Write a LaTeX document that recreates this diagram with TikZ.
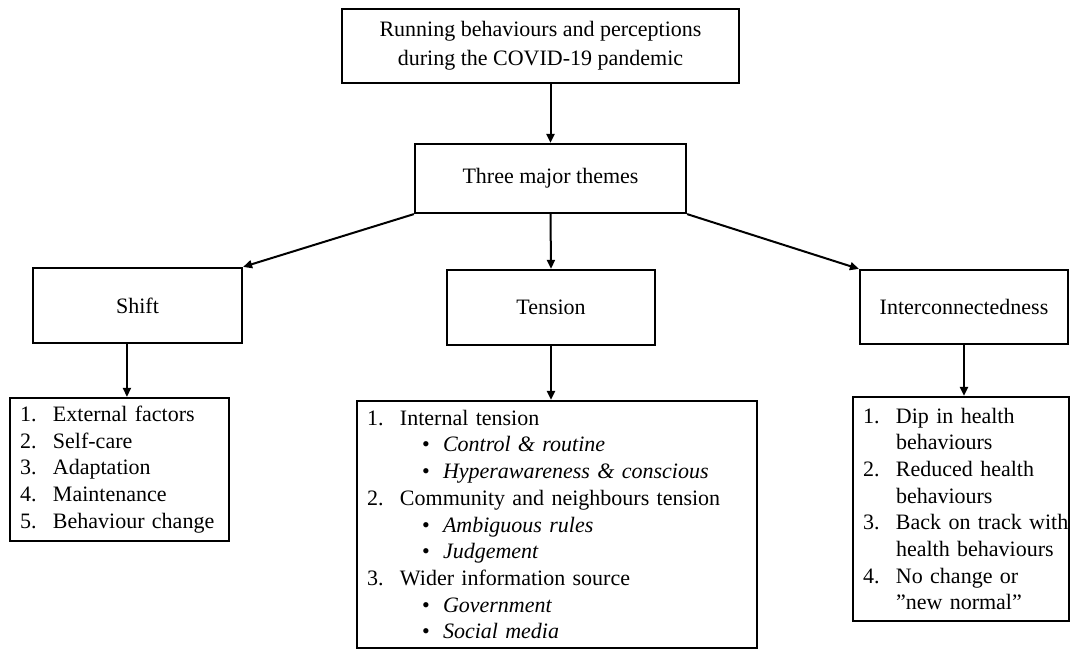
\documentclass[tikz,border=0pt]{standalone}
\usepackage{fontspec}
\setmainfont{Liberation Serif}
\usetikzlibrary{arrows.meta,calc}
\newcommand\itm[1]{\hspace*{10pt}\makebox[33pt][l]{#1}}
\newcommand\cnt{\hspace*{43pt}}
\newcommand\bul{\hspace*{65pt}\makebox[21pt][l]{•}}
\begin{document}
\begin{tikzpicture}[x=1pt,y=-1pt,
  box/.style={draw=black,line width=2.2pt,inner sep=0pt,align=center,
    font=\fontsize{22}{29}\selectfont},
  listbox/.style={draw=black,line width=2.2pt,inner sep=0pt,align=left,
    font=\fontsize{22}{26.7}\selectfont},
  arr/.style={line width=2pt,-{Triangle[length=9pt,width=8pt]}}]
\useasboundingbox (0,0) rectangle (1071,650);
\node[box,minimum width=397pt,minimum height=74pt] (top) at (540.5,46)
  {Running behaviours and perceptions\\during the COVID-19 pandemic};
\node[box,minimum width=271pt,minimum height=69pt] (themes) at (550.5,178.5) {Three major themes};
\node[box,minimum width=209pt,minimum height=75pt] (shift) at (137.5,305.5) {Shift};
\node[box,minimum width=208pt,minimum height=75pt] (tension) at (551,307.5) {Tension};
\node[box,minimum width=208pt,minimum height=74pt] (inter) at (964,307) {Interconnectedness};
\node[listbox,minimum width=219pt,minimum height=143pt,text width=219pt] (shiftlist) at (119.5,469.5)
  {\itm{1.}External factors\\
   \itm{2.}Self-care\\
   \itm{3.}Adaptation\\
   \itm{4.}Maintenance\\
   \itm{5.}Behaviour change};
\node[listbox,minimum width=400pt,minimum height=247pt,text width=400pt] (tenslist) at (557,524.5)
  {\itm{1.}Internal tension\\
   \bul\textit{Control \& routine}\\
   \bul\textit{Hyperawareness \& conscious}\\
   \itm{2.}Community and neighbours tension\\
   \bul\textit{Ambiguous rules}\\
   \bul\textit{Judgement}\\
   \itm{3.}Wider information source\\
   \bul\textit{Government}\\
   \bul\textit{Social media}};
\node[listbox,minimum width=216pt,minimum height=224pt,text width=216pt] (interlist) at (961,509)
  {\itm{1.}Dip in health\\
   \cnt behaviours\\
   \itm{2.}Reduced health\\
   \cnt behaviours\\
   \itm{3.}Back on track with\\
   \cnt health behaviours\\
   \itm{4.}No change or\\
   \cnt ”new normal”};
\draw[arr] (top.south -| themes.north) -- (themes.north);
\draw[arr] (themes.south west) -- (shift.north east);
\draw[arr] (themes.south) -- (tension.north);
\draw[arr] (themes.south east) -- (inter.north west);
\coordinate (s1) at ($(shift.south west)!0.45!(shift.south east)$);
\draw[arr] (s1) -- (s1 |- shiftlist.north);
\draw[arr] (tension.south) -- (tension.south |- tenslist.north);
\draw[arr] (inter.south) -- (inter.south |- interlist.north);
\end{tikzpicture}
\end{document}
